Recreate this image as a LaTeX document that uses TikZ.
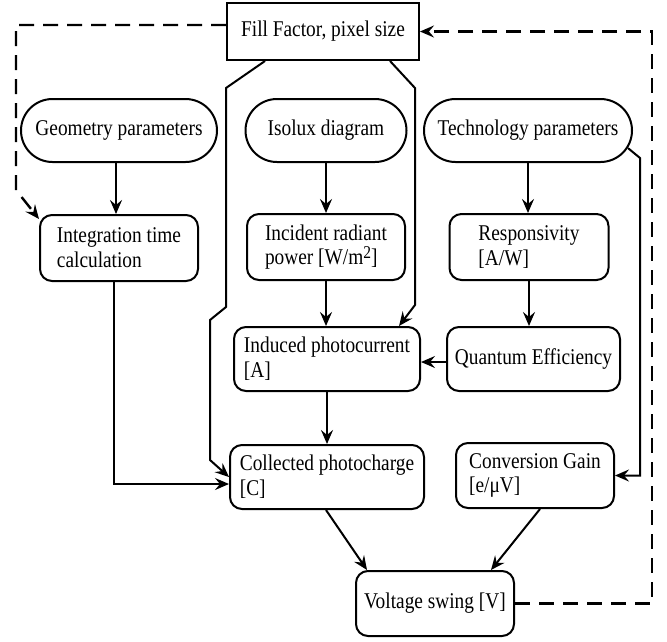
\documentclass[tikz,border=0pt]{standalone}
\usepackage{fontspec}
\setmainfont{Liberation Serif}[FakeStretch=0.86]
\usetikzlibrary{arrows.meta,shapes.misc}
\begin{document}
\begin{tikzpicture}[x=1pt,y=-1pt,
  every node/.style={font=\fontsize{22.5}{24.7}\selectfont, inner sep=0pt, line width=2pt},
  box/.style={draw, rounded corners=12pt, align=left},
  term/.style={draw, rounded rectangle},
  sq/.style={draw},
  conn/.style={line width=2pt, -{Stealth[length=14pt,width=12pt,inset=5pt]}},
  dsh/.style={conn, line width=2.4pt, dash pattern=on 15pt off 9pt}]
\useasboundingbox (0,0) rectangle (667,641);

\node[sq, minimum width=192pt, minimum height=57pt] (fill) at (323,31.5) {Fill Factor, pixel size};
\node[term, minimum width=196pt, minimum height=63pt] (geo) at (119,130.5) {Geometry parameters};
\node[term, minimum width=161pt, minimum height=63pt] (iso) at (326,130.5) {Isolux diagram};
\node[term, minimum width=208pt, minimum height=63pt] (tech) at (528,130.5) {Technology parameters};
\node[box, minimum width=158pt, minimum height=66pt] (integ) at (119,248) {Integration time\\calculation};
\node[box, minimum width=158pt, minimum height=66pt] (inc) at (326,247) {Incident radiant\\power [W/m\raisebox{6pt}{\fontsize{18}{18}\selectfont 2}]};
\node[box, minimum width=159pt, minimum height=66pt] (resp) at (529,247) {Responsivity\\{}[A/W]};
\node[box, minimum width=186pt, minimum height=64pt] (ind) at (327,359) {Induced photocurrent\\{}[A]};
\node[box, minimum width=173pt, minimum height=64pt] (qe) at (533.5,359) {Quantum Efficiency};
\node[box, minimum width=194pt, minimum height=64pt] (col) at (327,477) {Collected photocharge\\{}[C]};
\node[box, minimum width=158pt, minimum height=65pt] (cg) at (535,475.5) {Conversion Gain\\{}[e/μV]};
\node[box, minimum width=158pt, minimum height=65pt] (vs) at (435,603.5) {Voltage swing [V]};

\draw[conn] ([xshift=-3pt]geo.south) -- ([xshift=-3pt]integ.north);
\draw[conn] ([xshift=-5pt]integ.south) |- ([yshift=-7pt]col.west);
\draw[conn] (iso.south) -- (iso.south |- inc.north);
\draw[conn] (inc.south) -- (inc.south |- ind.north);
\draw[conn] (ind.south) -- (col.north);
\draw[conn] (tech.south) -- (tech.south |- resp.north);
\draw[conn] (resp.south) -- (resp.south |- qe.north);
\draw[conn] ([yshift=-3pt]qe.west) -- ([yshift=-3pt]ind.east);
\draw[conn] ([xshift=-58pt]fill.south) -- (226,88) -- (226,307) -- (210,320) -- (210,460) -- (col.west);
\draw[conn] ([xshift=67pt]fill.south) -- (415,88) -- (415,305) -- ([xshift=72pt]ind.north);
\draw[conn] ([shift={(-5,17.6)}]tech.east) -- (640,158) -- (640,475.5) -- (cg.east);
\draw[conn] ([xshift=-1pt]col.south) -- ([xshift=-68pt]vs.north);
\draw[conn] ([xshift=5pt]cg.south) -- ([xshift=56pt]vs.north);
\draw[dsh] ([yshift=6.5pt]fill.west) -- (16,25) -- (16,190) -- ([yshift=-5pt]integ.north west);
\draw[dsh] (vs.east) -- (652,603.5) -- (652,31.5) -- (fill.east);
\end{tikzpicture}
\end{document}
